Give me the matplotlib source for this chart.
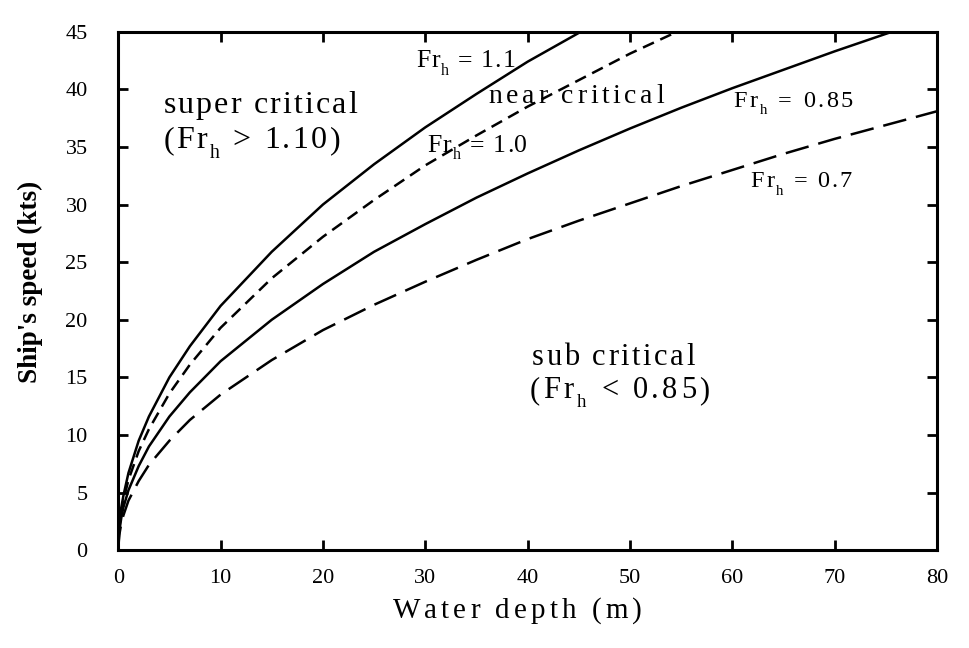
import numpy as np
import matplotlib
matplotlib.use("Agg")
import matplotlib.pyplot as plt
from matplotlib.font_manager import FontProperties
from matplotlib.transforms import IdentityTransform

plt.rcParams['font.family'] = ['Liberation Serif', 'DejaVu Serif']

# vattendjup (m) och fart (knop)
depth_11 = [0, 0.1, 0.3, 0.5, 1, 2, 3, 5, 7, 10, 15, 20, 25, 30, 35, 40, 45.2]
speed_11 = [0, 2.1, 3.7, 4.7, 6.7, 9.5, 11.6, 15.0, 17.7, 21.2, 25.9, 30.0, 33.5, 36.7, 39.6, 42.4, 45.0]

depth_10 = [0, 0.1, 0.3, 0.5, 1, 2, 3, 5, 7, 10, 15, 20, 25, 30, 35, 40, 45, 50, 54.6]
speed_10 = [0, 1.9, 3.3, 4.3, 6.1, 8.6, 10.5, 13.6, 16.1, 19.3, 23.6, 27.2, 30.4, 33.4, 36.0,
            38.5, 40.8, 43.1, 45.0]

depth_085 = [0, 0.1, 0.3, 0.5, 1, 2, 3, 5, 7, 10, 15, 20, 25, 30, 35, 40, 45, 50, 55, 60, 65, 70, 75.6]
speed_085 = [0, 1.6, 2.8, 3.7, 5.2, 7.3, 9.0, 11.6, 13.7, 16.4, 20.0, 23.1, 25.9, 28.3, 30.6,
             32.7, 34.7, 36.6, 38.4, 40.1, 41.7, 43.3, 45.0]

depth_07 = [0, 0.1, 0.3, 0.5, 1, 2, 3, 5, 7, 10, 15, 20, 25, 30, 35, 40, 45, 50, 55, 60, 65, 70, 75, 80]
speed_07 = [0, 1.3, 2.3, 3.0, 4.3, 6.0, 7.4, 9.5, 11.3, 13.5, 16.5, 19.1, 21.3, 23.3, 25.2,
            27.0, 28.6, 30.1, 31.6, 33.0, 34.4, 35.7, 36.9, 38.1]

xticks = [0, 10, 20, 30, 40, 50, 60, 70, 80]
yticks = [0, 5, 10, 15, 20, 25, 30, 35, 40, 45]

fig = plt.figure(figsize=(9.69, 6.48), dpi=100)
ax = fig.add_axes([0.122, 0.151, 0.845, 0.80])

lw = 1.8
ax.plot(depth_11, speed_11, color='black', lw=lw)
ax.plot(depth_10, speed_10, color='black', lw=lw, dashes=(4.8, 2.8))
ax.plot(depth_085, speed_085, color='black', lw=lw)
ax.plot(depth_07, speed_07, color='black', lw=lw, dashes=(9.5, 4))

ax.set_xlim(0, 80)
ax.set_ylim(0, 45)
ax.set_xticks(xticks)
ax.set_yticks(yticks)
ax.tick_params(direction='in', length=7, width=2, top=True, right=True, labelsize=16)
ax.tick_params(axis='x', pad=13.5)
ax.tick_params(axis='y', pad=22)
for s in ax.spines.values():
    s.set_linewidth(2.2)

ax.set_ylabel("Ship's speed (kts)", fontsize=19.5, fontweight='bold')
ax.yaxis.set_label_coords(-0.092, 0.517)

renderer = fig.canvas.get_renderer()


def char_w(ch, prop):
    # bredd på ett tecken inkl. mellanslag
    w1 = renderer.get_text_width_height_descent('x' + ch + 'x', prop, ismath=False)[0]
    w0 = renderer.get_text_width_height_descent('xx', prop, ismath=False)[0]
    return w1 - w0


def spaced_text(px, py, parts, size, width, center=False):
    # text med extra teckenavstånd, parts = [(text, subscript?)]
    chars = []
    for txt, sub in parts:
        prop = FontProperties(family='Liberation Serif', size=size * (0.62 if sub else 1))
        for ch in txt:
            chars.append((ch, prop, sub))
    widths = [char_w(c, p) for c, p, s in chars]
    track = (width - sum(widths)) / max(len(chars) - 1, 1)
    x = px - width / 2 if center else px
    for (c, p, s), w in zip(chars, widths):
        dy = -size * 0.42 if s else 0
        if c != ' ':
            fig.text(x, py + dy, c, fontproperties=p, transform=IdentityTransform(),
                     ha='left', va='baseline')
        x += w + track


def data_text(h, v, parts, size, width):
    px, py = ax.transData.transform((h, v))
    spaced_text(px, py, parts, size, width)


data_text(4.4, 37.95, [('super critical', False)], 23, 194)
data_text(4.4, 34.9, [('(Fr', False), ('h', True), (' > 1.10)', False)], 23, 177)
data_text(29.1, 41.9, [('Fr', False), ('h', True), (' = 1.1', False)], 18.5, 99)
data_text(36.2, 38.8, [('near critical', False)], 20, 175)
data_text(30.2, 34.6, [('Fr', False), ('h', True), (' = 1.0', False)], 18.5, 100)
data_text(60.1, 38.5, [('Fr', False), ('h', True), (' = 0.85', False)], 17.5, 119)
data_text(61.8, 31.5, [('Fr', False), ('h', True), (' = 0.7', False)], 17.5, 101)
data_text(40.4, 16.1, [('sub critical', False)], 22, 163)
data_text(40.2, 13.2, [('(Fr', False), ('h', True), (' < 0.85)', False)], 22, 180)

# x-axelns titel
spaced_text(517, 648 - 618, [('Water depth (m)', False)], 21, 249, center=True)

fig.savefig('out.png', dpi=100)
